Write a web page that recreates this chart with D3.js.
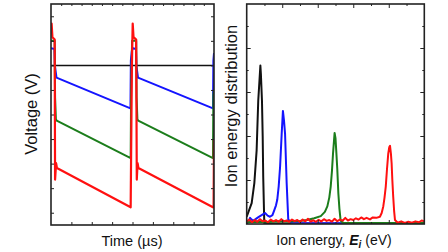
<!DOCTYPE html>
<html>
<head>
<meta charset="utf-8">
<script src="https://cdn.jsdelivr.net/npm/d3@7"></script>
<style>
    body { margin: 0; background: #fff; }
    text { font-family: "Liberation Sans", Arial, sans-serif; fill: #111; }
</style>
</head>
<body>
<svg id="drawing_region"></svg>
<script>
// left panel: voltage waveforms, [time (us), voltage (V)]
var BlackWave = [[0, -200], [8, -200]];
var BlueWave = [
    [0, -130], [0.17, -133], [0.19, -200], [0.24, -232], [0.27, -250],
    [3.9, -375], [3.92, -180], [3.97, -140], [4.02, -130], [4.17, -133],
    [4.19, -200], [4.24, -232], [4.27, -250], [7.95, -375], [7.97, -180], [8.0, -150]
];
var GreenWave = [
    [0, -100], [0.18, -100], [0.2, -330], [0.24, -420], [0.28, -425],
    [3.91, -578], [3.93, -330], [3.98, -100], [4.18, -100], [4.2, -330], [4.24, -420],
    [4.28, -425], [7.95, -578], [7.97, -320], [8.0, -300]
];
var RedWave = [
    [0, -70], [0.03, -30], [0.07, -85], [0.18, -95], [0.2, -665], [0.25, -598],
    [0.29, -618], [3.91, -778], [3.97, -200], [4.01, -30], [4.05, -85], [4.18, -95],
    [4.21, -665], [4.25, -598], [4.29, -618], [7.95, -778], [7.98, -778], [8.0, -500]
];
var TimeTicks = [1, 2, 3, 4, 5, 6, 7];
var TimeMinorTicks = [0.5, 1, 1.5, 2, 2.5, 3, 3.5, 4, 4.5, 5, 5.5, 6, 6.5, 7, 7.5];
var VoltTicks = [-800, -700, -600, -500, -400, -300, -200, -100, 0];

// right panel: ion energy distributions, [energy (eV), distribution]
var BlackIed = [
    [0, 0.033], [28, 0.095], [43, 0.186], [56, 0.336], [65, 0.56], [77, 0.72],
    [80, 0.68], [86, 0.56], [90, 0.4], [93, 0.215], [99, 0.004], [120, 0.002], [1000, 0.002]
];
var BlueIed = [
    [0, 0.002], [10, 0.01], [19, 0.028], [28, 0.02], [37, 0.015], [50, 0.022],
    [64, 0.03], [84, 0.04], [103, 0.05], [118, 0.038], [131, 0.033], [145, 0.04],
    [154, 0.06], [165, 0.085], [172, 0.11], [180, 0.17], [188, 0.26], [197, 0.41],
    [204, 0.514], [210, 0.47], [216, 0.41], [225, 0.186], [234, 0.02], [255, 0.005],
    [400, 0.003], [1000, 0.003]
];
var GreenIed = [
    [0, 0.008], [60, 0.01], [120, 0.009], [180, 0.012], [240, 0.011], [300, 0.014],
    [339, 0.018], [380, 0.026], [417, 0.036], [440, 0.055], [454, 0.08], [465, 0.12],
    [473, 0.17], [480, 0.24], [486, 0.32], [495, 0.414], [500, 0.39], [504, 0.336],
    [510, 0.25], [516, 0.14], [522, 0.07], [529, 0.015], [545, 0.004], [1000, 0.004]
];
var RedIed = [
    [0, 0.012], [15, 0.02], [30, 0.008], [45, 0.018], [60, 0.01], [75, 0.022],
    [90, 0.012], [105, 0.016], [120, 0.008], [135, 0.02], [150, 0.012], [165, 0.018],
    [180, 0.01], [195, 0.022], [210, 0.012], [225, 0.016], [240, 0.01], [255, 0.02],
    [270, 0.013], [285, 0.018], [300, 0.009], [315, 0.02], [330, 0.012], [345, 0.024],
    [360, 0.011], [375, 0.017], [390, 0.01], [405, 0.019], [420, 0.012], [435, 0.022],
    [450, 0.014], [465, 0.018], [480, 0.011], [495, 0.024], [510, 0.013], [525, 0.02],
    [540, 0.015], [555, 0.028], [570, 0.016], [585, 0.022], [600, 0.018], [615, 0.026],
    [630, 0.02], [645, 0.03], [660, 0.022], [675, 0.028], [694, 0.021], [710, 0.03],
    [730, 0.028], [750, 0.033], [760, 0.05], [769, 0.08], [776, 0.12], [783, 0.17],
    [790, 0.25], [797, 0.32], [803, 0.35], [807, 0.355], [812, 0.32], [816, 0.276],
    [820, 0.2], [825, 0.124], [830, 0.06], [835, 0.018], [850, 0.006], [870, 0.012],
    [890, 0.005], [910, 0.01], [930, 0.006], [950, 0.012], [970, 0.008], [985, 0.016],
    [1000, 0.012]
];
var EnergyTicks = [200, 400, 600, 800];
var EnergyMinorTicks = [100, 300, 500, 700, 900];
var DistTicks = [0.2, 0.4, 0.6, 0.8];
var DistMinorTicks = [0.1, 0.3, 0.5, 0.7, 0.9];

var Colors = { black: '#111111', blue: '#1414ff', green: '#1b7d1b', red: '#ff1010' };

var svg = d3.select('#drawing_region')
    .attr('width', 448)
    .attr('height', 252);

// inward ticks on all four sides, no labels
function frameAxes(g, xscale, yscale, xmajor, xminor, ymajor, yminor, majorLen, minorLen) {
    const nolab = () => '';
    const [x0, x1] = xscale.range();
    const [y0, y1] = yscale.range();

    const addAxis = (axis, tf) => {
        const a = g.append('g').attr('transform', tf).call(axis);
        a.select('.domain').remove();
        a.selectAll('line').attr('stroke', '#222').attr('stroke-width', 1);
    };

    addAxis(d3.axisBottom(xscale).tickValues(xmajor).tickSize(-majorLen).tickFormat(nolab), `translate(0,${y0})`);
    addAxis(d3.axisTop(xscale).tickValues(xminor).tickSize(-minorLen).tickFormat(nolab), `translate(0,${y1})`);
    addAxis(d3.axisLeft(yscale).tickValues(ymajor).tickSize(-majorLen).tickFormat(nolab), `translate(${x0},0)`);
    addAxis(d3.axisRight(yscale).tickValues(ymajor).tickSize(-majorLen).tickFormat(nolab), `translate(${x1},0)`);
    if (yminor) {
        addAxis(d3.axisLeft(yscale).tickValues(yminor).tickSize(-minorLen).tickFormat(nolab), `translate(${x0},0)`);
        addAxis(d3.axisRight(yscale).tickValues(yminor).tickSize(-minorLen).tickFormat(nolab), `translate(${x1},0)`);
        addAxis(d3.axisBottom(xscale).tickValues(xminor).tickSize(-minorLen).tickFormat(nolab), `translate(0,${y0})`);
        addAxis(d3.axisTop(xscale).tickValues(xmajor).tickSize(-majorLen).tickFormat(nolab), `translate(0,${y1})`);
    }

    g.append('rect')
        .attr('x', x0).attr('y', y1)
        .attr('width', x1 - x0).attr('height', y0 - y1)
        .attr('fill', 'none')
        .attr('stroke', '#222')
        .attr('stroke-width', 1.6);
}

function drawLines(g, clipId, xscale, yscale, series) {
    const [x0, x1] = xscale.range();
    const [y0, y1] = yscale.range();
    svg.append('clipPath').attr('id', clipId)
        .append('rect')
        .attr('x', x0).attr('y', y1)
        .attr('width', x1 - x0).attr('height', y0 - y1);

    const line = d3.line()
        .x(d => xscale(d[0]))
        .y(d => yscale(d[1]));

    g.append('g').attr('clip-path', `url(#${clipId})`)
        .selectAll('path')
        .data(series)
        .join('path')
        .attr('d', d => line(d.values))
        .attr('fill', 'none')
        .attr('stroke', d => d.color)
        .attr('stroke-width', d => d.width)
        .attr('stroke-linejoin', 'round');
}

// ---- left: voltage vs time
var left = svg.append('g');
var tscale = d3.scaleLinear().domain([0, 8]).range([51, 214]);
var vscale = d3.scaleLinear().domain([-850, 50]).range([225, 4]);

drawLines(left, 'clipV', tscale, vscale, [
    { values: BlackWave, color: Colors.black, width: 1.5 },
    { values: BlueWave, color: Colors.blue, width: 2 },
    { values: GreenWave, color: Colors.green, width: 2 },
    { values: RedWave, color: Colors.red, width: 2.2 }
]);
frameAxes(left, tscale, vscale, TimeTicks, TimeMinorTicks, VoltTicks, null, 3, 2);

left.append('text')
    .attr('transform', 'translate(37,114) rotate(-90)')
    .attr('text-anchor', 'middle')
    .style('font-size', '16.5px')
    .text('Voltage (V)');

left.append('text')
    .attr('x', 132).attr('y', 246)
    .attr('text-anchor', 'middle')
    .style('font-size', '14.5px')
    .text('Time (\u00b5s)');

// ---- right: ion energy distribution
var right = svg.append('g');
var escale = d3.scaleLinear().domain([0, 1000]).range([246.7, 424.3]);
var dscale = d3.scaleLinear().domain([0, 1]).range([224, 4]);

drawLines(right, 'clipE', escale, dscale, [
    { values: BlackIed, color: Colors.black, width: 2 },
    { values: BlueIed, color: Colors.blue, width: 2 },
    { values: GreenIed, color: Colors.green, width: 2 },
    { values: RedIed, color: Colors.red, width: 2 }
]);
frameAxes(right, escale, dscale, EnergyTicks, EnergyMinorTicks, DistTicks, DistMinorTicks, 4, 2);

right.append('text')
    .attr('transform', 'translate(237,106) rotate(-90)')
    .attr('text-anchor', 'middle')
    .style('font-size', '16.5px')
    .text('Ion energy distribution');

var xlab = right.append('text')
    .attr('x', 334).attr('y', 245)
    .attr('text-anchor', 'middle')
    .style('font-size', '14px');
xlab.append('tspan').text('Ion energy, ');
xlab.append('tspan').style('font-weight', 'bold').style('font-style', 'italic').text('E');
xlab.append('tspan').attr('dy', 3).style('font-size', '10px').style('font-weight', 'bold').style('font-style', 'italic').text('i');
xlab.append('tspan').attr('dy', -3).text(' (eV)');
</script>
</body>
</html>
